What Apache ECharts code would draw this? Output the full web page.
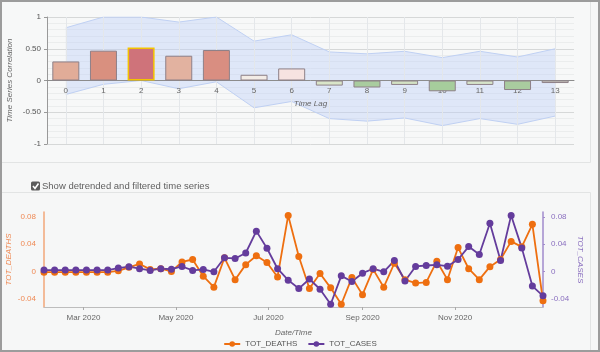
<!DOCTYPE html>
<html>
<head>
<meta charset="utf-8">
<script src="https://cdn.jsdelivr.net/npm/echarts@6/dist/echarts.min.js"></script>
<style>
  html, body { margin: 0; padding: 0; background: #f6f7f7; }
  #main { width: 600px; height: 352px; }
</style>
</head>
<body>
<div id="main"></div>
<script>
// top chart: cross correlation by time lag
const lags = ['0', '1', '2', '3', '4', '5', '6', '7', '8', '9', '10', '11', '12', '13'];
const correlation = [0.30, 0.47, 0.52, 0.39, 0.48, 0.09, 0.19, -0.08, -0.11, -0.07, -0.17, -0.07, -0.15, -0.04];
const bandUpper = [0.83, 1.0, 1.0, 0.92, 1.0, 0.62, 0.72, 0.45, 0.42, 0.46, 0.36, 0.46, 0.37, 0.50];
const bandLower = [-0.22, -0.06, 0.0, -0.13, -0.02, -0.43, -0.33, -0.60, -0.64, -0.59, -0.71, -0.60, -0.69, -0.56];

// bottom chart: weekly detrended series
const weeks = [
  '2020-02-04', '2020-02-11', '2020-02-18', '2020-02-25', '2020-03-03', '2020-03-10', '2020-03-17', '2020-03-24',
  '2020-03-31', '2020-04-07', '2020-04-14', '2020-04-21', '2020-04-28', '2020-05-05', '2020-05-12', '2020-05-19',
  '2020-05-26', '2020-06-02', '2020-06-09', '2020-06-16', '2020-06-23', '2020-06-30', '2020-07-07', '2020-07-14',
  '2020-07-21', '2020-07-28', '2020-08-04', '2020-08-11', '2020-08-18', '2020-08-25', '2020-09-01', '2020-09-08',
  '2020-09-15', '2020-09-22', '2020-09-29', '2020-10-06', '2020-10-13', '2020-10-20', '2020-10-27', '2020-11-03',
  '2020-11-10', '2020-11-17', '2020-11-24', '2020-12-01', '2020-12-08', '2020-12-15', '2020-12-22', '2020-12-29'
];
const totDeaths = [
  -0.001, -0.001, -0.001, -0.001, -0.001, -0.001, -0.001, 0.001, 0.006, 0.011, 0.003, 0.004,
  0.000, 0.014, 0.0175, -0.007, -0.023, 0.020, -0.012, 0.010, 0.023, 0.013, -0.008, 0.082,
  0.022, -0.025, -0.003, -0.024, -0.048, -0.009, -0.034, 0.003, -0.023, 0.012, -0.012, -0.017,
  -0.016, 0.015, -0.012, 0.035, 0.004, -0.012, 0.007, 0.0175, 0.044, 0.036, 0.069, -0.043
];
const totCases = [
  0.002, 0.002, 0.002, 0.002, 0.002, 0.002, 0.002, 0.005, 0.007, 0.004, 0.0015, 0.004,
  0.0034, 0.0073, 0.0015, 0.003, -0.0005, 0.020, 0.019, 0.027, 0.059, 0.034, 0.004, -0.0127,
  -0.025, -0.011, -0.026, -0.048, -0.0064, -0.0146, -0.0025, 0.004, -0.0005, 0.016, -0.014, 0.0073,
  0.0087, 0.0097, 0.0077, 0.0175, 0.0364, 0.0248, 0.0705, 0.016, 0.082, 0.0345, -0.0214, -0.0356
];
const seriesTicks = [-0.04, 0, 0.04, 0.08];
const monthTicks = ['2020-03-01', '2020-05-01', '2020-07-01', '2020-09-01', '2020-11-01'];

const barColors = ['#e1ac98', '#d9907f', '#cf737a', '#e2b2a0', '#d98e81', '#f3ece6', '#f6e3e1',
  '#d9e5c8', '#a9cc9f', '#d3e1c3', '#a6cd9c', '#d6e4c9', '#a9cb9f', '#dadccf'];
const monthNames = ['Jan', 'Feb', 'Mar', 'Apr', 'May', 'Jun', 'Jul', 'Aug', 'Sep', 'Oct', 'Nov', 'Dec'];

const FONT = 'Liberation Sans';
const ORANGE = '#ee6f10';
const PURPLE = '#643c9c';

const toTime = s => { const p = s.split('-'); return +new Date(+p[0], +p[1] - 1, +p[2]); };

const chart = echarts.init(document.getElementById('main'), null, {renderer: 'canvas'});

chart.setOption({
  animation: false,
  backgroundColor: '#f6f7f7',
  textStyle: {fontFamily: FONT},
  graphic: [
    {type: 'rect', z: -10, silent: true, shape: {x: 1.5, y: 1.5, width: 589, height: 161},
      style: {fill: '#f7f8f8', stroke: '#e2e4e4', lineWidth: 1}},
    {type: 'line', z: -10, silent: true, shape: {x1: 1, y1: 192.5, x2: 590.5, y2: 192.5},
      style: {stroke: '#e2e4e4', lineWidth: 1}},
    {type: 'line', z: -10, silent: true, shape: {x1: 590.5, y1: 192.5, x2: 590.5, y2: 351},
      style: {stroke: '#e2e4e4', lineWidth: 1}},
    {type: 'rect', z: 100, silent: true, shape: {x: 1, y: 1, width: 598, height: 350},
      style: {fill: null, stroke: '#9c9c9c', lineWidth: 2}},
    {type: 'rect', silent: true, shape: {x: 31, y: 181.5, width: 9, height: 9, r: 1.5},
      style: {fill: '#5b5b5b'}},
    {type: 'polyline', silent: true, shape: {points: [[33, 186], [35, 188.5], [38.5, 183.5]]},
      style: {stroke: '#ffffff', lineWidth: 1.6, fill: null}},
    {type: 'text', silent: true, x: 42, y: 186.5,
      style: {text: 'Show detrended and filtered time series', fill: '#606060',
        font: '9.5px "Liberation Sans"', verticalAlign: 'middle'}}
  ],
  legend: {
    data: ['TOT_DEATHS', 'TOT_CASES'],
    left: 'center', top: 335,
    itemWidth: 16, itemHeight: 7, itemGap: 10,
    textStyle: {fontSize: 8, color: '#555'}
  },
  grid: [
    {left: 47, right: 26, top: 17, bottom: 208, outerBoundsMode: 'none', containLabel: false},
    {left: 44, right: 57, top: 212, bottom: 45, outerBoundsMode: 'none', containLabel: false}
  ],
  xAxis: [
    {
      type: 'category', gridIndex: 0, data: lags, position: 'bottom', offset: -63.5, z: 2,
      name: 'Time Lag', nameLocation: 'middle', nameGap: 19, nameMoveOverlap: false,
      nameTextStyle: {fontStyle: 'italic', fontSize: 8, color: '#666'},
      axisLine: {onZero: false, lineStyle: {color: '#8c8c8c'}},
      axisTick: {alignWithLabel: true, inside: true, length: 3, lineStyle: {color: '#999'}},
      axisLabel: {fontSize: 8, color: '#666', margin: 6},
      splitLine: {show: true, alignWithLabel: true, lineStyle: {color: '#e4e7ea'}}
    },
    {
      type: 'value', gridIndex: 1,
      min: toTime(weeks[0]), max: toTime(weeks[weeks.length - 1]),
      name: 'Date/Time', nameLocation: 'middle', nameGap: 22, nameMoveOverlap: false,
      nameTextStyle: {fontStyle: 'italic', fontSize: 8, color: '#666'},
      axisLine: {onZero: false, lineStyle: {color: '#bdbdbd'}},
      axisTick: {show: true, length: 3, customValues: monthTicks.map(toTime), lineStyle: {color: '#aaa'}},
      axisLabel: {
        fontSize: 8, color: '#666', margin: 7,
        customValues: monthTicks.map(toTime),
        formatter: v => { const d = new Date(v); return monthNames[d.getMonth()] + ' ' + d.getFullYear(); }
      },
      splitLine: {show: false}
    }
  ],
  yAxis: [
    {
      type: 'value', gridIndex: 0, min: -1, max: 1, interval: 0.5,
      name: 'Time Series Correlation', nameLocation: 'middle', nameGap: 33, nameMoveOverlap: false,
      nameTextStyle: {fontStyle: 'italic', fontSize: 8, color: '#666'},
      axisLine: {show: true, lineStyle: {color: '#999'}},
      axisTick: {show: true, length: 3, lineStyle: {color: '#999'}},
      axisLabel: {
        fontSize: 8, color: '#555', margin: 6,
        formatter: v => (v === 0 || Math.abs(v) === 1) ? String(v) : v.toFixed(2)
      },
      splitLine: {lineStyle: {color: '#d6d8d8'}},
      minorTick: {show: false, splitNumber: 5},
      minorSplitLine: {show: true, lineStyle: {color: '#ebeded'}}
    },
    {
      type: 'value', gridIndex: 1, position: 'left', min: -0.052, max: 0.087,
      name: 'TOT_DEATHS', nameLocation: 'middle', nameGap: 31, nameRotate: 90, nameMoveOverlap: false,
      nameTextStyle: {fontStyle: 'italic', fontSize: 8, color: '#ef8a55'},
      axisLine: {show: true, onZero: false, lineStyle: {color: '#f2a77a', width: 1.5}},
      axisTick: {show: false, customValues: seriesTicks},
      axisLabel: {fontSize: 8, color: '#ef8a55', margin: 8, customValues: seriesTicks,
        formatter: v => v === 0 ? '0' : v.toFixed(2)},
      splitLine: {show: false}
    },
    {
      type: 'value', gridIndex: 1, position: 'right', min: -0.052, max: 0.087,
      name: 'TOT_CASES', nameLocation: 'middle', nameGap: 33, nameRotate: -90, nameMoveOverlap: false,
      nameTextStyle: {fontStyle: 'italic', fontSize: 8, color: '#8a6fbf'},
      axisLine: {show: true, onZero: false, lineStyle: {color: '#a08bcc', width: 1.5}},
      axisTick: {show: true, length: 2, customValues: seriesTicks, lineStyle: {color: '#a08bcc'}},
      axisLabel: {fontSize: 8, color: '#8a6fbf', margin: 8, customValues: seriesTicks,
        formatter: v => v === 0 ? '0' : v.toFixed(2)},
      splitLine: {show: false}
    }
  ],
  series: [
    {
      name: 'bandLower', type: 'line', xAxisIndex: 0, yAxisIndex: 0, z: 1,
      stack: 'band', stackStrategy: 'all', symbol: 'none', silent: true,
      data: bandLower,
      lineStyle: {color: '#bfd0f3', width: 1}
    },
    {
      name: 'bandUpper', type: 'line', xAxisIndex: 0, yAxisIndex: 0, z: 1,
      stack: 'band', stackStrategy: 'all', symbol: 'none', silent: true,
      data: bandUpper.map((u, i) => u - bandLower[i]),
      lineStyle: {color: '#bfd0f3', width: 1},
      areaStyle: {color: 'rgba(190, 208, 248, 0.6)'}
    },
    {
      name: 'Correlation', type: 'bar', xAxisIndex: 0, yAxisIndex: 0, z: 3,
      barWidth: 27,
      data: correlation.map((v, i) => ({
        value: v,
        itemStyle: {
          color: barColors[i],
          borderColor: i === 2 ? '#f3c300' : '#8e8088',
          borderWidth: i === 2 ? 1.5 : 1
        }
      }))
    },
    {
      name: 'TOT_DEATHS', type: 'line', xAxisIndex: 1, yAxisIndex: 1,
      data: weeks.map((d, i) => [toTime(d), totDeaths[i]]),
      symbol: 'circle', symbolSize: 7,
      itemStyle: {color: ORANGE},
      lineStyle: {color: ORANGE, width: 1.8}
    },
    {
      name: 'TOT_CASES', type: 'line', xAxisIndex: 1, yAxisIndex: 2,
      data: weeks.map((d, i) => [toTime(d), totCases[i]]),
      symbol: 'circle', symbolSize: 7,
      itemStyle: {color: PURPLE},
      lineStyle: {color: PURPLE, width: 1.8}
    }
  ]
});
</script>
</body>
</html>
